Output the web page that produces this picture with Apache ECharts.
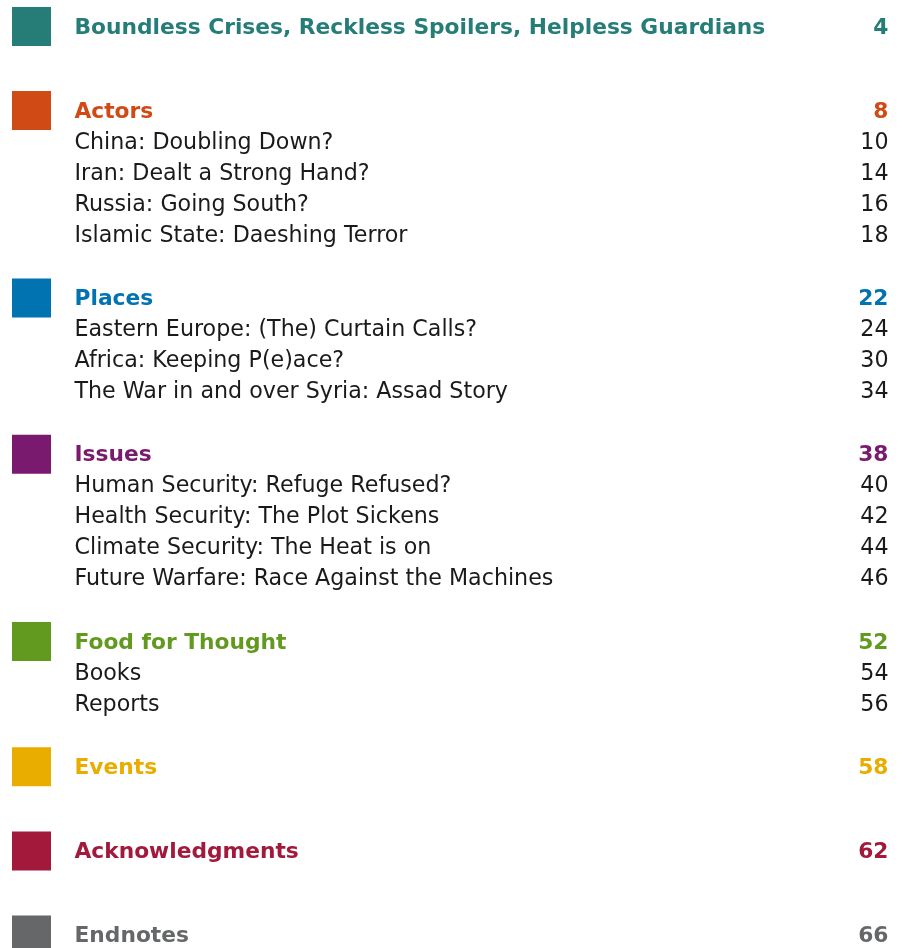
<!DOCTYPE html>
<html><head><meta charset="utf-8">
<script src="https://cdn.jsdelivr.net/npm/echarts@6/dist/echarts.min.js"></script>
<style>html,body{margin:0;padding:0;background:#fff}#c{width:904px;height:948px}</style>
</head><body><div id="c"></div>
<script>
const sections = ["Boundless Crises, Reckless Spoilers, Helpless Guardians","Actors","Places","Issues","Food for Thought","Events","Acknowledgments","Endnotes"];
const sectionPages = [4, 8, 22, 38, 52, 58, 62, 66];
const sectionColors = ["#267d78","#d04a15","#0073b0","#7a1a6e","#629a1f","#e9ad00","#a2193c","#666769"];
const subTitles = [
  [],
  ["China: Doubling Down?","Iran: Dealt a Strong Hand?","Russia: Going South?","Islamic State: Daeshing Terror"],
  ["Eastern Europe: (The) Curtain Calls?","Africa: Keeping P(e)ace?","The War in and over Syria: Assad Story"],
  ["Human Security: Refuge Refused?","Health Security: The Plot Sickens","Climate Security: The Heat is on","Future Warfare: Race Against the Machines"],
  ["Books","Reports"],
  [],[],[]
];
const subPages = [[],[10,14,16,18],[24,30,34],[40,42,44,46],[54,56],[],[],[]];

// layout (not data)
const ROW = 31, GAP_AFTER_SUB = 63.3, GAP_EMPTY = 84.1, FIRST = 26.5;
const X_SQ = 31.5, X_TEXT = 74, X_NUM = 889;

const squares = [], heads = [], headNums = [], subs = [], subNums = [];
let y = FIRST;
sections.forEach((s, i) => {
  squares.push({value:[X_SQ, y], itemStyle:{color:sectionColors[i], opacity:1}});
  heads.push({value:[X_TEXT, y], name:s, label:{color:sectionColors[i]}});
  headNums.push({value:[X_NUM, y], name:String(sectionPages[i]), label:{color:sectionColors[i]}});
  subTitles[i].forEach((t, j) => {
    y += ROW;
    subs.push({value:[X_TEXT, y], name:t});
    subNums.push({value:[X_NUM, y], name:String(subPages[i][j])});
  });
  y += subTitles[i].length ? GAP_AFTER_SUB : GAP_EMPTY;
});

const FONT = '"DejaVu Sans", sans-serif';
function textSeries(data, bold, align){
  return {
    type:'scatter', data, symbolSize:1, itemStyle:{color:'#fff', opacity:0}, silent:true,
    label:{show:true, formatter:p=>p.name, position: align==='left' ? 'right' : 'left', distance:0,
      offset:[0, 1.5],
      fontFamily:FONT, fontSize: bold ? 21.75 : 22.2, fontWeight: bold ? 'bold' : 'normal', color:'#1a1a1a',
      opacity:1, verticalAlign:'middle'}
  };
}
const chart = echarts.init(document.getElementById('c'), null, {renderer:'canvas'});
chart.setOption({
  animation:false,
  grid:{left:0, right:0, top:0, bottom:0},
  xAxis:{type:'value', min:0, max:904, show:false},
  yAxis:{type:'value', min:0, max:948, inverse:true, show:false},
  series:[
    {type:'scatter', data:squares, symbol:'rect', symbolSize:39, silent:true, itemStyle:{opacity:1}},
    textSeries(heads, true, 'left'),
    textSeries(headNums, true, 'right'),
    textSeries(subs, false, 'left'),
    textSeries(subNums, false, 'right')
  ]
});
</script></body></html>
